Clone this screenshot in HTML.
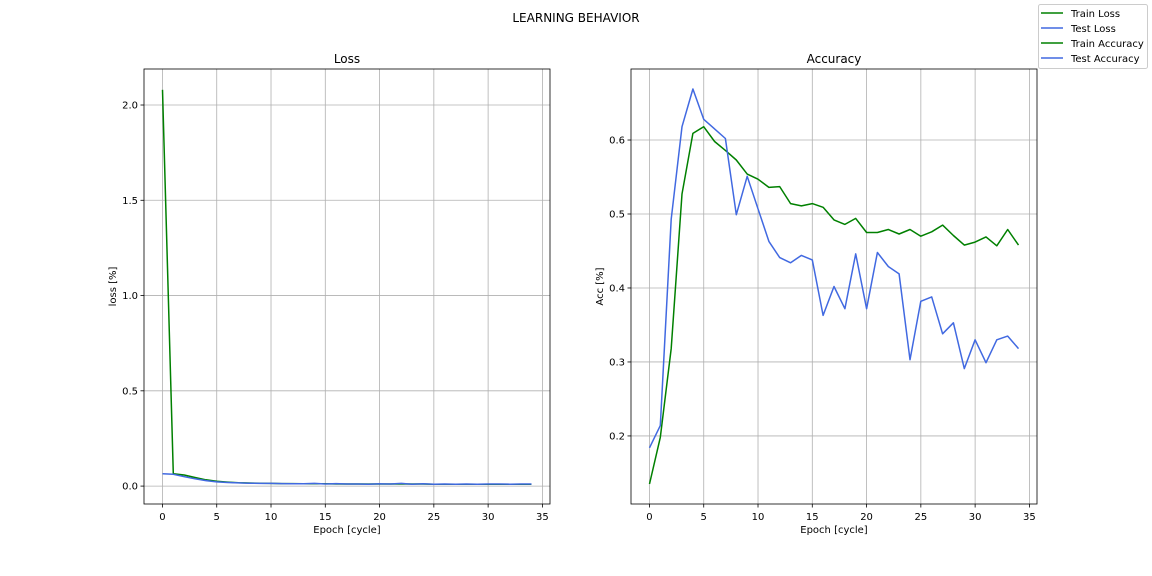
<!DOCTYPE html>
<html><head><meta charset="utf-8"><style>
html,body{margin:0;padding:0;background:#fff;}
svg{display:block;font-family:"DejaVu Sans","Liberation Sans",sans-serif;}
</style></head><body>
<svg id="fig" width="1152" height="576" viewBox="0 0 1152 576">
<rect width="1152" height="576" fill="#fff"/>
<text x="576" y="22" text-anchor="middle" font-size="12">LEARNING BEHAVIOR</text>
<g id="left"></g>
<g id="right"></g>
<g>
<rect x="1038.5" y="4.5" width="109" height="64" rx="2" fill="#fff" stroke="#ccc"/>
<line x1="1041" y1="13" x2="1063" y2="13" stroke="green" stroke-width="1.5"/>
<text x="1071" y="17" font-size="10">Train Loss</text>
<line x1="1041" y1="28" x2="1063" y2="28" stroke="royalblue" stroke-width="1.5"/>
<text x="1071" y="32" font-size="10">Test Loss</text>
<line x1="1041" y1="43" x2="1063" y2="43" stroke="green" stroke-width="1.5"/>
<text x="1071" y="47" font-size="10">Train Accuracy</text>
<line x1="1041" y1="58" x2="1063" y2="58" stroke="royalblue" stroke-width="1.5"/>
<text x="1071" y="62" font-size="10">Test Accuracy</text>
</g>
</svg>
<script>
const epochs = Array.from({length:35},(_,i)=>i);
const trainLoss = [2.08,0.065,0.058,0.045,0.033,0.025,0.021,0.018,0.016,0.015,0.014,0.013,0.013,0.012,0.012,0.012,0.011,0.011,0.011,0.011,0.011,0.011,0.011,0.011,0.011,0.010,0.010,0.010,0.010,0.010,0.010,0.010,0.010,0.010,0.010];
const testLoss = [0.065,0.062,0.050,0.038,0.029,0.022,0.019,0.017,0.015,0.014,0.014,0.013,0.012,0.012,0.014,0.011,0.013,0.011,0.011,0.010,0.012,0.011,0.014,0.010,0.012,0.010,0.011,0.010,0.011,0.010,0.011,0.011,0.010,0.011,0.011];
const trainAcc = [0.135,0.198,0.318,0.527,0.609,0.618,0.598,0.586,0.573,0.554,0.547,0.536,0.537,0.514,0.511,0.514,0.509,0.492,0.486,0.494,0.475,0.475,0.479,0.473,0.479,0.470,0.476,0.485,0.471,0.458,0.462,0.469,0.457,0.479,0.458];
const testAcc = [0.184,0.214,0.493,0.618,0.669,0.628,0.615,0.602,0.499,0.551,0.507,0.463,0.441,0.434,0.444,0.438,0.363,0.402,0.372,0.446,0.372,0.448,0.429,0.419,0.303,0.382,0.388,0.338,0.353,0.291,0.330,0.299,0.330,0.335,0.318];
const xTicks = [0,5,10,15,20,25,30,35];
const lossTicks = [0.0,0.5,1.0,1.5,2.0];
const lossTickLabels = ["0.0","0.5","1.0","1.5","2.0"];
const accTicks = [0.2,0.3,0.4,0.5,0.6];
const accTickLabels = ["0.2","0.3","0.4","0.5","0.6"];

const NS="http://www.w3.org/2000/svg";
function mk(parent,tag,attrs){const e=document.createElementNS(NS,tag);for(const k in attrs)e.setAttribute(k,attrs[k]);parent.appendChild(e);return e;}

function drawChart(g,cfg){
  const L=cfg.L,R=cfg.R,T=69,B=504;
  const xs=v=>L+(v-cfg.xmin)/(cfg.xmax-cfg.xmin)*(R-L);
  const ys=v=>B-(v-cfg.ymin)/(cfg.ymax-cfg.ymin)*(B-T);
  xTicks.forEach(t=>{
    const x=xs(t);
    const gl=mk(g,'line',{x1:x,x2:x,y1:T,y2:B,stroke:'#b0b0b0','stroke-width':0.8});
    
    
    mk(g,'line',{x1:x,x2:x,y1:B,y2:B+3.5,stroke:'#000','stroke-width':0.8});
    const tx=mk(g,'text',{x:x,y:B+16,'text-anchor':'middle','font-size':10});
    tx.textContent=t;
    
    
  });
  cfg.yTicks.forEach((t,i)=>{
    const y=ys(t);
    const gl=mk(g,'line',{x1:L,x2:R,y1:y,y2:y,stroke:'#b0b0b0','stroke-width':0.8});
    
    
    mk(g,'line',{x1:L-3.5,x2:L,y1:y,y2:y,stroke:'#000','stroke-width':0.8});
    const tx=mk(g,'text',{x:L-6,y:y+3.5,'text-anchor':'end','font-size':10});
    tx.textContent=cfg.yLabels[i];
    
    
  });
  cfg.series.forEach(s=>{
    const d=s.data.map((v,i)=>(i?'L':'M')+xs(epochs[i]).toFixed(1)+','+ys(v).toFixed(1)).join(' ');
    const p=mk(g,'path',{d:d,fill:'none',stroke:s.color,'stroke-width':1.5,'stroke-linejoin':'round'});
    
    
  });
  const fr=mk(g,'rect',{x:L,y:T,width:R-L,height:B-T,fill:'none',stroke:'#000','stroke-width':0.8});
  
  
  const ti=mk(g,'text',{x:(L+R)/2,y:T-6,'text-anchor':'middle','font-size':12});
  ti.textContent=cfg.title;
  
  
  const xl=mk(g,'text',{x:(L+R)/2,y:B+29,'text-anchor':'middle','font-size':10});
  xl.textContent='Epoch [cycle]';
  
  
  const yx=cfg.ylabX, yy=(T+B)/2;
  const yl=mk(g,'text',{x:yx,y:yy,'text-anchor':'middle','font-size':10,transform:`rotate(-90 ${yx} ${yy})`});
  yl.textContent=cfg.ylabel;
  
  
}
drawChart(document.getElementById('left'),{L:144,R:550,xmin:-1.7,xmax:35.7,ymin:-0.094,ymax:2.189,yTicks:lossTicks,yLabels:lossTickLabels,title:'Loss',ylabel:'loss [%]',ylabX:116,
  series:[{data:trainLoss,color:'green',name:'train-loss-line'},{data:testLoss,color:'royalblue',name:'test-loss-line'}]});
drawChart(document.getElementById('right'),{L:631,R:1037,xmin:-1.7,xmax:35.7,ymin:0.108,ymax:0.696,yTicks:accTicks,yLabels:accTickLabels,title:'Accuracy',ylabel:'Acc [%]',ylabX:603,
  series:[{data:trainAcc,color:'green',name:'train-accuracy-line'},{data:testAcc,color:'royalblue',name:'test-accuracy-line'}]});
</script>
</body></html>
